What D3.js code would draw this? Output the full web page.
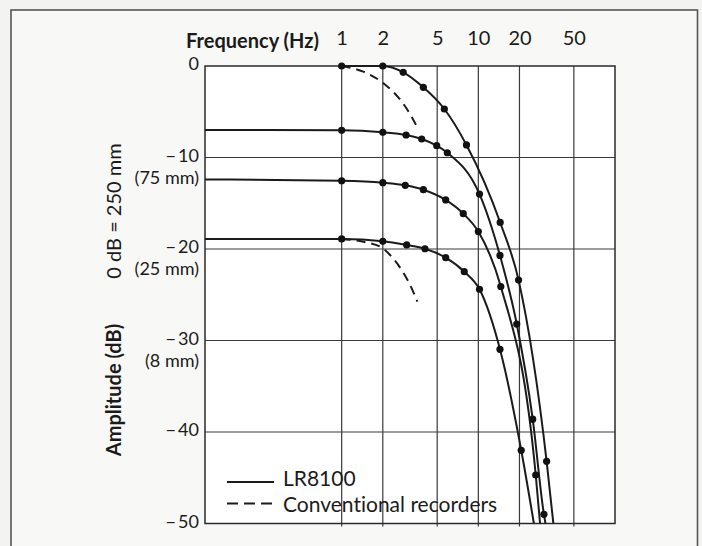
<!DOCTYPE html>
<html>
<head>
<meta charset="utf-8">
<script src="https://cdn.jsdelivr.net/npm/d3@7"></script>
<style>
  body { margin: 0; background: #f3f3f1; }
  svg { display: block; font-family: Lato, 'Open Sans', sans-serif; font-variant-ligatures: none; }
</style>
</head>
<body>
<svg id="chart" width="702" height="546"></svg>
<script>
// frequency (Hz) and amplitude (dB) values
const freqTicks = [1, 2, 5, 10, 20, 50]
const dbTicks = [0, -10, -20, -30, -40, -50]
const mmTicks = [-10, -20, -30]
const mmLabels = ['(75 mm)', '(25 mm)', '(8 mm)']

// LR8100 curves: where each line starts, the measured dots, where it leaves the plot
const lrStarts = [[1, 0], [0.1, -7.0], [0.1, -12.4], [0.1, -18.9]]
const lrDots = [
  [[2, 0], [2.82, -0.69], [3.96, -2.33], [5.64, -4.7], [8.19, -8.63], [14.45, -17.1], [19.7, -23.4], [31.6, -43.2]],
  [[1, -7.03], [2, -7.25], [2.96, -7.54], [3.85, -7.98], [4.96, -8.71], [5.93, -9.48], [10.2, -14.0], [14.4, -20.7], [19.1, -28.2], [25.0, -38.6], [30.2, -49.0]],
  [[1, -12.54], [2, -12.75], [2.92, -13.04], [3.96, -13.52], [5.77, -14.64], [7.76, -16.14], [10.0, -18.1], [14.6, -24.1], [26.3, -44.7]],
  [[1, -18.9], [2, -19.16], [2.99, -19.56], [4.07, -19.97], [5.77, -20.95], [7.89, -22.48], [10.2, -24.4], [14.4, -30.96], [20.6, -42.0]]
]
const lrEnds = [[35.4, -50], [31.0, -50], [28.3, -50], [25.5, -50]]

// conventional recorders (dashed)
const convUpper = [[1, 0], [1.44, -0.62], [2.02, -1.89], [2.75, -3.9], [3.25, -5.54], [3.5, -6.45]]
const convLower = [[1, -18.9], [1.44, -19.2], [2, -19.92], [2.26, -20.66], [2.75, -22.3], [3.16, -23.9], [3.58, -25.76]]

const legendNames = ['LR8100', 'Conventional recorders']

const svg = d3.select('#chart')
const ink = '#1b1b1b'

const x = d3.scaleLog().domain([0.1, 100]).range([205, 615])
const y = d3.scaleLinear().domain([-50, 0]).range([523.5, 66])

// outer frame of the figure
svg.append('rect')
  .attr('x', 11).attr('y', 10)
  .attr('width', 686.5).attr('height', 600)
  .attr('fill', '#f8f8f6')
  .attr('stroke', '#555').attr('stroke-width', 1.6)

// plot area
svg.append('rect')
  .attr('x', x(0.1)).attr('y', y(0))
  .attr('width', x(100) - x(0.1)).attr('height', y(-50) - y(0))
  .attr('fill', '#fff')

const grid = svg.append('g').attr('stroke', '#3a3a3a').attr('stroke-width', 1.2)

grid.selectAll('.vgrid')
  .data(freqTicks)
  .join('line')
  .attr('class', 'vgrid')
  .attr('x1', d => x(d)).attr('x2', d => x(d))
  .attr('y1', y(0)).attr('y2', y(-50) + 3)

grid.selectAll('.hgrid')
  .data(dbTicks.filter(d => d > -50 && d < 0))
  .join('line')
  .attr('class', 'hgrid')
  .attr('x1', x(0.1)).attr('x2', x(100))
  .attr('y1', d => y(d)).attr('y2', d => y(d))

svg.append('rect')
  .attr('x', x(0.1)).attr('y', y(0))
  .attr('width', x(100) - x(0.1)).attr('height', y(-50) - y(0))
  .attr('fill', 'none')
  .attr('stroke', '#2a2a2a').attr('stroke-width', 1.5)

// axes (labels only, the grid carries the lines)
const xAxis = svg.append('g')
  .attr('transform', 'translate(0,' + 42 + ')')
  .call(d3.axisTop(x).tickValues(freqTicks).tickFormat(d3.format('d')).tickSize(0))
xAxis.select('.domain').remove()
xAxis.selectAll('text')
  .attr('font-size', 20).attr('font-family', 'Lato, sans-serif')
  .attr('fill', ink).attr('dy', 6)

svg.append('text')
  .attr('x', 319).attr('y', 48)
  .attr('text-anchor', 'end')
  .attr('font-size', 20).attr('font-weight', 'bold')
  .attr('fill', ink)
  .text('Frequency (Hz)')

const yAxis = svg.append('g')
  .attr('transform', 'translate(' + 199 + ',-2)')
  .call(d3.axisLeft(y).tickValues(dbTicks).tickSize(0)
    .tickFormat(d => d === 0 ? '0' : '\u2212\u2009' + Math.abs(d)))
yAxis.select('.domain').remove()
yAxis.selectAll('text')
  .attr('font-size', 18).attr('font-family', 'Lato, sans-serif')
  .attr('fill', ink).attr('x', 0)

svg.selectAll('.mm')
  .data(mmTicks)
  .join('text')
  .attr('class', 'mm')
  .attr('x', 199).attr('y', d => y(d) + 26)
  .attr('text-anchor', 'end')
  .attr('font-size', 18)
  .attr('fill', ink)
  .text((d, i) => mmLabels[i])

// rotated axis titles
svg.append('text')
  .attr('transform', 'translate(113,' + 390 + ') rotate(-90)')
  .attr('text-anchor', 'middle').attr('dominant-baseline', 'central')
  .attr('font-size', 20).attr('font-weight', 'bold')
  .attr('fill', ink)
  .text('Amplitude (dB)')

svg.append('text')
  .attr('transform', 'translate(113,' + 211 + ') rotate(-90)')
  .attr('text-anchor', 'middle').attr('dominant-baseline', 'central')
  .attr('font-size', 20)
  .attr('fill', ink)
  .text('0 dB = 250 mm')

// curves
const line = d3.line()
  .x(d => x(d[0]))
  .y(d => y(d[1]))
  .curve(d3.curveMonotoneX)

const plot = svg.append('g')

lrDots.forEach((dots, i) => {
  plot.append('path')
    .attr('d', line([lrStarts[i], ...dots.filter(d => d[0] > lrStarts[i][0]), lrEnds[i]]))
    .attr('fill', 'none')
    .attr('stroke', ink).attr('stroke-width', 2)
})

plot.selectAll('.conv')
  .data([convUpper, convLower])
  .join('path')
  .attr('class', 'conv')
  .attr('d', line)
  .attr('fill', 'none')
  .attr('stroke', ink).attr('stroke-width', 2)
  .attr('stroke-dasharray', '9,6')

plot.selectAll('.dot')
  .data(lrDots.flat().concat([convUpper[0]]))
  .join('circle')
  .attr('class', 'dot')
  .attr('cx', d => x(d[0])).attr('cy', d => y(d[1]))
  .attr('r', 3.6)
  .attr('fill', '#111')

// legend
const legend = svg.append('g')
legendNames.forEach((name, i) => {
  legend.append('line')
    .attr('x1', 227).attr('x2', 274)
    .attr('y1', 482 + i * 21.5).attr('y2', 482 + i * 21.5)
    .attr('stroke', ink).attr('stroke-width', 2)
    .attr('stroke-dasharray', i === 1 ? '11,6' : null)
  legend.append('text')
    .attr('x', 283).attr('y', 485.5 + i * 26)
    .attr('font-size', 21)
    .attr('fill', ink)
    .text(name)
})
</script>
</body>
</html>
